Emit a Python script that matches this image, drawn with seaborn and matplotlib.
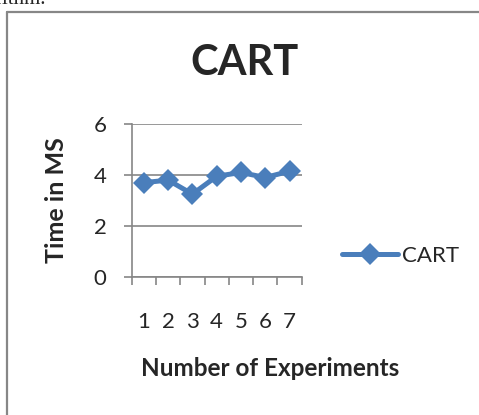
import matplotlib
matplotlib.use("Agg")
import matplotlib.pyplot as plt
import seaborn as sns
import pandas as pd
from matplotlib.lines import Line2D

# Data
experiments = [1, 2, 3, 4, 5, 6, 7]
times = [3.7, 3.8, 3.25, 3.95, 4.1, 3.9, 4.15]
y_ticks = [0, 2, 4, 6]
series_name = "CART"

df = pd.DataFrame({"experiment": experiments, "time": times})

sns.set_style("white")
plt.rcParams["font.family"] = ["Lato", "DejaVu Sans"]

W, H = 479, 415
fig = plt.figure(figsize=(W / 100, H / 100), dpi=100)

def fx(px):
    return px / W

def fy(py):
    return 1 - py / H

# plot area in pixel coordinates of the reference
left, right, top, bottom = 131.7, 301.7, 124, 277
ax = fig.add_axes([fx(left), fy(bottom), fx(right - left), (bottom - top) / H])

blue = "#4A7EBB"
grey = "#868686"

sns.lineplot(data=df, x="experiment", y="time", ax=ax, color=blue,
             marker="D", markersize=11, linewidth=3.6, markeredgewidth=0,
             label=series_name)

ax.set_xlim(0.5, 7.5)
ax.set_ylim(0, 6)
ax.set_xlabel("")
ax.set_ylabel("")

# category boundaries as tick marks, labels at category centres
ax.set_xticks([x + 0.5 for x in [0] + experiments])
ax.set_xticklabels([])
ax.set_xticks(experiments, minor=True)
ax.set_xticklabels([str(e) for e in experiments], minor=True)
ax.tick_params(axis="x", which="major", direction="out", length=6, width=1.2,
               color=grey, bottom=True)
ax.tick_params(axis="x", which="minor", length=0, pad=25, labelsize=16)

ax.set_yticks(y_ticks)
ax.set_yticklabels([str(t) for t in y_ticks])
ax.tick_params(axis="y", direction="out", length=6, width=1.2, color=grey,
               left=True, pad=12, labelsize=16)

ax.grid(axis="y", color=grey, linewidth=1.2)
ax.set_axisbelow(True)
for side in ["top", "right"]:
    ax.spines[side].set_visible(False)
for side in ["left", "bottom"]:
    ax.spines[side].set_color(grey)
    ax.spines[side].set_linewidth(1.2)

leg = ax.legend(loc="center left", bbox_to_anchor=(fx(342), fy(256)),
                bbox_transform=fig.transFigure, frameon=False, fontsize=16,
                handlelength=2.5, handletextpad=0.2, borderaxespad=0,
                borderpad=0)

fig.text(fx(245), fy(63), "CART", ha="center", va="center",
         fontsize=30, fontweight="bold")
fig.text(fx(270), fy(368), "Number of Experiments", ha="center",
         va="center", fontsize=17.5, fontweight="bold")
fig.text(fx(56), fy(200), "Time in MS", ha="center", va="center",
         rotation=90, fontsize=18, fontweight="bold")

# surrounding chart frame and clipped document text
frame_col = "#878787"
fig.add_artist(Line2D([fx(7), fx(7)], [fy(12), 0], color=frame_col,
                      linewidth=1.6, transform=fig.transFigure))
fig.add_artist(Line2D([fx(7), 1], [fy(12), fy(12)], color=frame_col,
                      linewidth=1.6, transform=fig.transFigure))
fig.text(fx(-4), fy(4), "rithm.", ha="left", va="baseline",
         family="Liberation Serif", fontsize=15)

fig.savefig("out.png", dpi=100)
